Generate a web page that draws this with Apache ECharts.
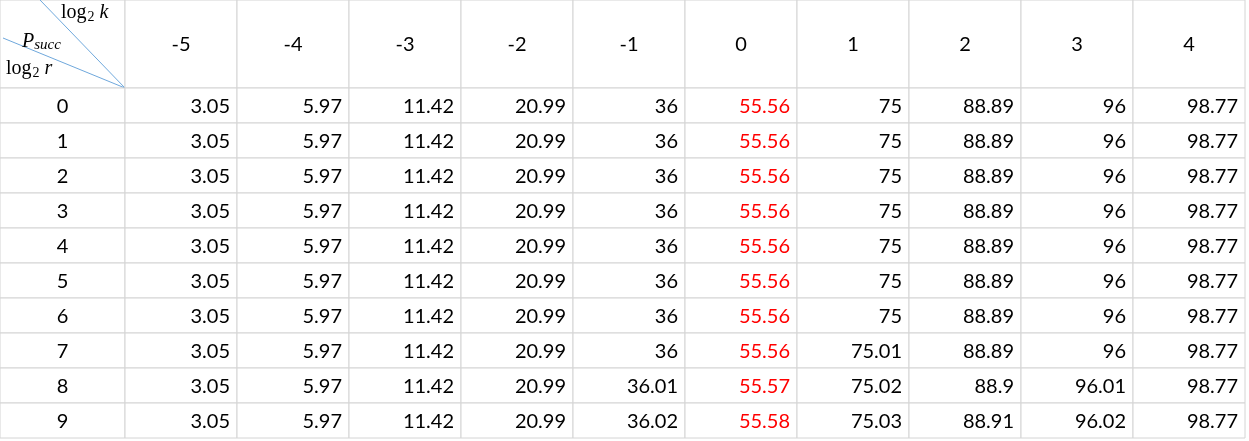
<!DOCTYPE html>
<html>
<head>
<meta charset="utf-8">
<script src="https://cdn.jsdelivr.net/npm/echarts@6/dist/echarts.min.js"></script>
<style>
  html, body { margin: 0; padding: 0; background: #fff; }
  #chart { width: 1249px; height: 441px; }
</style>
</head>
<body>
<div id="chart"></div>
<script>
const logK = ["-5", "-4", "-3", "-2", "-1", "0", "1", "2", "3", "4"];
const logR = ["0", "1", "2", "3", "4", "5", "6", "7", "8", "9"];
const highlightCol = "0";

const rowsP = [
  ["3.05", "5.97", "11.42", "20.99", "36", "55.56", "75", "88.89", "96", "98.77"],
  ["3.05", "5.97", "11.42", "20.99", "36", "55.56", "75", "88.89", "96", "98.77"],
  ["3.05", "5.97", "11.42", "20.99", "36", "55.56", "75", "88.89", "96", "98.77"],
  ["3.05", "5.97", "11.42", "20.99", "36", "55.56", "75", "88.89", "96", "98.77"],
  ["3.05", "5.97", "11.42", "20.99", "36", "55.56", "75", "88.89", "96", "98.77"],
  ["3.05", "5.97", "11.42", "20.99", "36", "55.56", "75", "88.89", "96", "98.77"],
  ["3.05", "5.97", "11.42", "20.99", "36", "55.56", "75", "88.89", "96", "98.77"],
  ["3.05", "5.97", "11.42", "20.99", "36", "55.56", "75.01", "88.89", "96", "98.77"],
  ["3.05", "5.97", "11.42", "20.99", "36.01", "55.57", "75.02", "88.9", "96.01", "98.77"],
  ["3.05", "5.97", "11.42", "20.99", "36.02", "55.58", "75.03", "88.91", "96.02", "98.77"]
];

const gridColor = "#d4d4d4";
const font = "Lato, 'Open Sans', sans-serif";
const fontSize = 20;

const chart = echarts.init(document.getElementById("chart"));

// align: 'center' | 'right'
function cellRenderer(align, colorFn) {
  return function (params, api) {
    const c = api.coord([api.value(0), api.value(1)]);
    const s = api.size([1, 1]);
    const x0 = c[0] - s[0] / 2, y0 = c[1] - s[1] / 2;
    const label = api.value(2);
    return {
      type: "group",
      children: [
        {
          type: "rect",
          shape: { x: x0, y: y0, width: s[0], height: s[1] },
          style: { fill: "#fff", stroke: gridColor, lineWidth: 1 }
        },
        {
          type: "text",
          x: align === "right" ? x0 + s[0] - 7 : c[0],
          y: c[1] + 1,
          style: {
            text: String(label),
            textAlign: align,
            textVerticalAlign: "middle",
            font: fontSize + "px " + font,
            fill: colorFn ? colorFn(params) : "#000"
          }
        }
      ]
    };
  };
}

const bodyData = [];
rowsP.forEach((row, r) => row.forEach((v, k) => bodyData.push([k, r, v])));
const headerData = logK.map((k, i) => [i, 0, k]);
const rowLabelData = logR.map((r, i) => [0, i, r]);

chart.setOption({
  animation: false,
  backgroundColor: "#fff",
  grid: [
    { left: 0, top: 0, width: 125, height: 88 },
    { left: 125, top: 0, width: 1120, height: 88 },
    { left: 0, top: 88, width: 125, height: 350 },
    { left: 125, top: 88, width: 1120, height: 350 }
  ],
  xAxis: [
    { gridIndex: 0, type: "category", data: ["corner"], show: false },
    { gridIndex: 1, type: "category", data: logK, show: false },
    { gridIndex: 2, type: "category", data: ["log2r"], show: false },
    { gridIndex: 3, type: "category", data: logK, show: false }
  ],
  yAxis: [
    { gridIndex: 0, type: "category", data: ["h"], show: false },
    { gridIndex: 1, type: "category", data: ["h"], show: false },
    { gridIndex: 2, type: "category", data: logR, inverse: true, show: false },
    { gridIndex: 3, type: "category", data: logR, inverse: true, show: false }
  ],
  series: [
    {
      type: "custom", xAxisIndex: 1, yAxisIndex: 1,
      renderItem: cellRenderer("center"), data: headerData
    },
    {
      type: "custom", xAxisIndex: 2, yAxisIndex: 2,
      renderItem: cellRenderer("center"), data: rowLabelData
    },
    {
      type: "custom", xAxisIndex: 3, yAxisIndex: 3,
      renderItem: cellRenderer("right", p =>
        logK[bodyData[p.dataIndex][0]] === highlightCol ? "#ff0000" : "#000"),
      data: bodyData
    }
  ],
  graphic: [
    { type: "rect", shape: { x: 0, y: 0, width: 125, height: 88 },
      style: { fill: "#fff", stroke: gridColor, lineWidth: 1 } },
    { type: "line", shape: { x1: 40, y1: 0, x2: 125, y2: 88 },
      style: { stroke: "#6fa8dc", lineWidth: 1 } },
    { type: "line", shape: { x1: 3, y1: 38, x2: 125, y2: 88 },
      style: { stroke: "#6fa8dc", lineWidth: 1 } },
    { type: "text", x: 61, y: 2,
      style: { text: "{n|log}{s|2}{i| k}", rich: {
        n: { font: "20px 'Liberation Serif', serif" },
        s: { font: "14px 'Liberation Serif', serif", padding: [8, 0, 0, 1] },
        i: { font: "italic 20px 'Liberation Serif', serif" } } } },
    { type: "text", x: 22, y: 30,
      style: { text: "{i|P}{s|succ}", rich: {
        i: { font: "italic 20px 'Liberation Serif', serif" },
        s: { font: "italic 15px 'Liberation Serif', serif", padding: [8, 0, 0, 0] } } } },
    { type: "text", x: 6, y: 58,
      style: { text: "{n|log}{s|2}{i| r}", rich: {
        n: { font: "20px 'Liberation Serif', serif" },
        s: { font: "14px 'Liberation Serif', serif", padding: [8, 0, 0, 1] },
        i: { font: "italic 20px 'Liberation Serif', serif" } } } }
  ]
});
</script>
</body>
</html>
